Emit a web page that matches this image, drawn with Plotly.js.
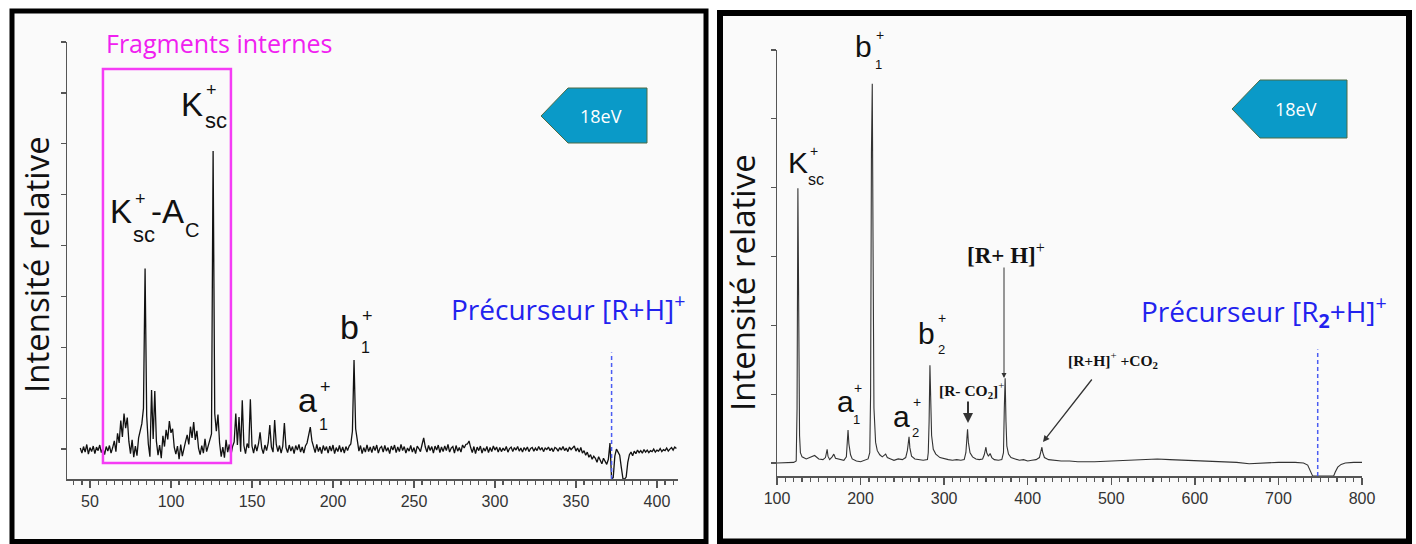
<!DOCTYPE html>
<html>
<head>
<meta charset="utf-8">
<script src="https://cdn.plot.ly/plotly-3.0.1.min.js"></script>
<style>html,body{margin:0;padding:0;background:#fff;}#chart{width:1416px;height:544px;}</style>
</head>
<body>
<div id="chart"></div>
<script>
// ---------- DATA ----------
// Left spectrum (18 eV, precursor [R+H]+ at m/z 372): intensity (arb. units) per m/z, from m/z 44 to 412
const mzStartL = 44;
const intL = [
  0.2,-0.8,0.5,-0.6,0.9,-1.0,0.3,-0.5,0.6,-0.9,      // 44-53
  0.4,-0.3,0.8,-0.7,0.2,-1.1,0.5,-0.4,0.7,-0.8,      // 54-63
  0.3,1.6,-0.5,3.1,1.2,5.6,2.4,7.0,4.1,6.2,          // 64-73
  1.5,-0.9,1.8,-1.6,0.6,-1.3,2.2,3.5,5.0,8.0,        // 74-83
  35.5,6.5,1.0,-1.5,11.6,2.0,11.4,1.5,-1.2,0.8,      // 84-93
  -1.8,2.6,0.5,3.8,1.9,5.5,3.2,4.0,0.4,-1.0,         // 94-103
  0.6,-2.0,0.9,-1.4,0.3,1.5,2.8,0.9,4.4,2.2,         // 104-113
  5.3,1.8,3.6,0.2,-1.1,0.7,-0.8,2.0,-0.5,0.8,        // 114-123
  1.6,3.0,58.6,7.0,3.5,6.8,1.2,-1.5,0.4,-1.7,        // 124-133
  1.8,-0.6,0.9,-1.2,0.5,1.4,7.0,0.8,6.3,-0.5,        // 134-143
  9.6,0.7,-0.9,1.1,0.2,9.8,0.6,-0.8,0.9,-0.4,        // 144-153
  1.0,3.3,0.2,-0.9,0.8,-0.3,1.2,4.7,0.4,-0.6,        // 154-163
  5.7,0.9,-0.5,0.7,-0.8,0.6,5.1,0.3,-0.7,0.8,        // 164-173
  -0.4,0.5,-0.9,0.7,-0.2,0.9,-0.6,0.4,-0.8,0.6,      // 174-183
  1.2,2.5,4.3,1.6,0.3,-0.7,0.9,-0.5,0.4,-0.9,        // 184-193
  0.7,-0.3,0.5,-0.8,0.6,-0.4,0.8,-0.9,0.3,-0.5,      // 194-203
  0.7,-0.6,0.4,-0.8,0.5,-0.3,0.6,1.0,3.5,17.5,       // 204-213
  4.0,1.2,-0.4,0.7,-0.9,0.3,-0.6,0.8,-0.5,0.4,       // 214-223
  -0.7,0.6,-0.3,0.8,-0.8,0.2,0.5,-0.6,0.7,-0.4,      // 224-233
  0.3,-0.9,0.6,-0.2,0.8,-0.7,0.4,-0.5,0.9,-0.3,      // 234-243
  0.5,-0.8,0.2,-0.4,0.7,-0.6,0.3,-0.9,0.6,0.1,       // 244-253
  -0.5,0.9,2.2,0.4,-0.6,0.7,-0.3,0.5,-0.8,0.6,       // 254-263
  -0.2,0.8,-0.7,0.4,-0.5,0.6,-0.3,0.9,-0.6,0.2,      // 264-273
  0.5,-0.8,0.7,-0.4,0.3,-0.6,0.8,0.2,0.9,1.0,        // 274-283
  1.6,0.3,-0.7,0.5,-0.9,0.4,-0.3,0.6,-0.8,0.2,       // 284-293
  -0.4,0.5,-0.7,0.3,-0.5,0.6,-0.2,0.4,-0.6,0.3,      // 294-303
  -0.5,0.2,-0.3,0.5,-0.6,0.1,0.4,-0.5,0.3,-0.2,      // 304-313
  0.5,-0.4,0.2,-0.6,0.3,-0.2,0.4,-0.5,0.1,0.3,       // 314-323
  -0.4,0.2,-0.3,0.5,-0.2,0.3,-0.5,0.2,-0.1,0.4,      // 324-333
  -0.3,0.2,-0.5,0.3,0.1,-0.4,0.3,-0.2,0.5,-0.3,      // 334-343
  0.2,-0.5,0.4,-0.1,0.3,0.6,-0.4,0.2,-0.6,0.3,       // 344-353
  -0.8,-0.3,-1.2,-0.6,-1.6,-1.1,-2.0,-1.4,-1.8,-2.6, // 354-363
  -1.5,-2.2,-2.9,-1.8,-2.4,-3.0,-2.0,1.2,-5.9,-5.6,  // 364-373
  -1.4,0.0,-0.6,-1.2,-3.6,-5.8,-5.9,-5.5,-2.6,-1.1,  // 374-383
  -0.6,-1.3,-0.4,-0.9,-0.2,-0.7,-0.3,-0.8,-0.1,-0.6, // 384-393
  -0.2,-0.7,-0.3,-0.5,0.0,-0.6,-0.2,-0.4,0.1,-0.5,   // 394-403
  -0.1,-0.3,0.2,-0.4,0.0,0.3,-0.2,0.4,0.1            // 404-412
];
const mzL = intL.map((_, i) => mzStartL + i);

// Right spectrum (18 eV, precursor [R2+H]+ at m/z ~747)
const mzR = [100,110,120,123,124,125,126,127,128,130,135,140,145,150,155,158,160,161,163,166,168,170,175,180,183,184,185,186,188,190,195,200,205,209,211,212,213,214,215,216,218,220,223,226,230,232,236,240,245,250,254,256,257,258,259,261,265,270,275,280,281,282,283,284,285,287,290,295,300,305,310,315,320,324,326,327,328,329,331,334,338,342,346,348,350,351,353,355,357,360,365,369,371,372,373,374,375,377,380,385,390,395,400,405,410,414,416,417,418,420,425,430,440,450,460,480,500,520,540,555,570,590,610,630,650,665,680,700,720,730,735,738,741,745,750,755,760,766,768,771,775,780,790,800];
const intR = [0.0,0.1,0.1,0.3,8,39.9,20,4,1.5,0.9,0.6,0.9,1.1,0.6,0.5,0.8,2.0,1.0,0.5,0.9,1.3,0.7,0.5,0.4,0.9,2.5,4.8,2.8,1.2,0.6,0.3,0.2,0.4,0.6,1.5,10,45,55.1,30,8,3,1.8,1.2,0.9,1.3,0.8,0.6,0.4,0.6,0.5,0.8,1.8,2.8,3.8,2.2,1.0,0.6,0.5,0.4,0.5,1.5,6,14.2,9,4,2,1.3,0.8,0.6,0.5,0.4,0.5,0.4,0.5,1.5,4.0,4.9,3,1.5,0.9,0.6,0.5,0.6,1.2,2.3,1.5,1.0,1.4,0.8,0.5,0.4,0.5,1.5,8,12.3,6,2.5,1.3,0.8,0.6,0.4,0.5,0.3,0.4,0.5,0.8,1.8,2.3,1.5,0.8,0.5,0.4,0.3,0.3,0.2,0.2,0.3,0.4,0.5,0.6,0.5,0.4,0.3,0.2,0.1,-0.1,0.0,0.1,0.1,0.0,-0.3,-1.0,-1.9,-1.9,-1.9,-1.9,-1.9,-1.9,-1.3,-0.6,-0.2,0.0,0.1,0.1];

const precursorL = 372;
const precursorR = 747;
const fragBoxL = [58, 137];   // m/z span of "Fragments internes" box

// ---------- LAYOUT HELPERS ----------
const W = 1416, H = 544;
const fx = x => x / W, fy = y => 1 - y / H;
const SANS = 'Liberation Sans, Arial, sans-serif';
const OPEN = 'Open Sans, sans-serif';
const SERIF = 'Liberation Serif, Times New Roman, serif';

function lab(x, y, text, size, family, color, extra) {
  return Object.assign({xref:'paper', yref:'paper', x:fx(x), y:fy(y), text:text, showarrow:false,
    xanchor:'center', yanchor:'middle', font:{family:family||SANS, size:size, color:color||'#111'}}, extra||{});
}
function arrow(hx, hy, tx, ty, w, size) {
  return {xref:'paper', yref:'paper', x:fx(hx), y:fy(hy), ax:tx-hx, ay:ty-hy, text:'', showarrow:true,
    arrowhead:2, arrowsize:size||1, arrowwidth:w||1, arrowcolor:'#333'};
}
function tagPath(tipX, tipY, notchX, top, right, bottom) {
  return 'M ' + fx(tipX) + ' ' + fy(tipY) + ' L ' + fx(notchX) + ' ' + fy(top) + ' L ' + fx(right) + ' ' + fy(top) +
         ' L ' + fx(right) + ' ' + fy(bottom) + ' L ' + fx(notchX) + ' ' + fy(bottom) + ' Z';
}

const axisCommon = {showgrid:false, zeroline:false, showline:true, linecolor:'#555', linewidth:1.5,
  ticks:'outside', tickcolor:'#555', tickwidth:1.3};

const layout = {
  width: W, height: H, margin:{l:0, r:0, t:0, b:0},
  paper_bgcolor:'#ffffff', plot_bgcolor:'rgba(0,0,0,0)', showlegend:false,
  xaxis: Object.assign({}, axisCommon, {domain:[fx(67), fx(678)], range:[35.8, 413], anchor:'y',
    tick0:0, dtick:50, ticklen:7, tickfont:{family:SANS, size:16, color:'#333'},
    minor:{dtick:5, tick0:0, ticks:'outside', ticklen:4, tickcolor:'#555', tickwidth:1.2, showgrid:false}}),
  yaxis: Object.assign({}, axisCommon, {domain:[fy(479), fy(42)], range:[-5.88, 80], anchor:'x',
    tick0:0, dtick:10, ticklen:5, showticklabels:false}),
  xaxis2: Object.assign({}, axisCommon, {domain:[fx(777), fx(1362)], range:[100, 800], anchor:'y2',
    tick0:0, dtick:100, ticklen:7, tickfont:{family:SANS, size:16, color:'#333'},
    minor:{dtick:10, tick0:0, ticks:'outside', ticklen:4, tickcolor:'#555', tickwidth:1.2, showgrid:false}}),
  yaxis2: Object.assign({}, axisCommon, {domain:[fy(476), fy(50)], range:[-1.88, 60], anchor:'x2',
    tick0:0, dtick:10, ticklen:5, showticklabels:false}),
  shapes: [
    // panel frames
    {type:'rect', xref:'paper', yref:'paper', x0:fx(12), x1:fx(706), y0:fy(541.5), y1:fy(11),
     line:{color:'#000', width:5}, fillcolor:'#fafafa', layer:'below'},
    {type:'rect', xref:'paper', yref:'paper', x0:fx(720), x1:fx(1409), y0:fy(541.5), y1:fy(13),
     line:{color:'#000', width:6}, fillcolor:'#fafafa', layer:'below'},
    // Fragments internes box
    {type:'rect', xref:'x', yref:'y', x0:fragBoxL[0], x1:fragBoxL[1], y0:-2.75, y1:74.7,
     line:{color:'#f53cf5', width:2.5}, fillcolor:'rgba(0,0,0,0)'},
    // precursor dashed lines
    {type:'line', xref:'x', yref:'y', x0:precursorL, x1:precursorL, y0:-5.88, y1:19,
     line:{color:'#4b5cf2', width:1.5, dash:'4px,3px'}},
    {type:'line', xref:'x2', yref:'y2', x0:precursorR, x1:precursorR, y0:-1.88, y1:16.5,
     line:{color:'#4b5cf2', width:1.5, dash:'4px,3px'}},
    // 18eV tags
    {type:'path', xref:'paper', yref:'paper', path:tagPath(541,116,568,88,647,143),
     fillcolor:'#0a9ac8', line:{color:'#4d6b45', width:1}},
    {type:'path', xref:'paper', yref:'paper', path:tagPath(1232,109,1260,80,1347,138),
     fillcolor:'#0a9ac8', line:{color:'#4d6b45', width:1}}
  ],
  annotations: [
    // axis titles
    lab(37, 265, 'Intensité relative', 33, OPEN, '#111', {textangle:-90}),
    lab(742, 283, 'Intensité relative', 33, OPEN, '#111', {textangle:-90}),
    // tags text
    lab(601, 116, '18eV', 18, OPEN, '#ffffff'),
    lab(1296, 109, '18eV', 18, OPEN, '#ffffff'),
    // Fragments internes
    lab(219, 43, 'Fragments internes', 25, OPEN, '#f020f0'),
    // Precursor labels
    lab(568, 307, 'Précurseur [R+H]<sup>+</sup>', 28, OPEN, '#2222ee'),
    lab(1264, 311, 'Précurseur [R<sub><b>2</b></sub>+H]<sup>+</sup>', 28, OPEN, '#2222ee'),
    // Left labels: K_sc+
    lab(191.5, 104, 'K', 33), lab(211, 90, '+', 18), lab(215.5, 120, 'sc', 22),
    // K_sc+ - A_c
    lab(121.5, 212, 'K', 33), lab(140, 199, '+', 18), lab(143.5, 234, 'sc', 22),
    lab(167, 212, '-A', 33), lab(191.5, 230, 'C', 20),
    // a1+
    lab(307.5, 400, 'a', 34), lab(325, 387, '+', 18), lab(323, 424, '1', 16),
    // b1+
    lab(349, 327, 'b', 34), lab(367, 316, '+', 18), lab(365, 347.5, '1', 16),
    // Right labels: b1+
    lab(863.5, 46, 'b', 30), lab(879.5, 35, '+', 14), lab(878, 64, '1', 13),
    // K_sc+
    lab(797.5, 163, 'K', 30), lab(813.5, 151, '+', 14), lab(816, 179, 'sc', 16),
    // a1+
    lab(845, 401, 'a', 30), lab(857.5, 388, '+', 14), lab(856.5, 419, '1', 13),
    // a2+
    lab(901.5, 416, 'a', 30), lab(916.5, 402, '+', 14), lab(915, 432, '2', 13),
    // b2+
    lab(926.5, 333, 'b', 30), lab(941.5, 318, '+', 14), lab(941, 349.5, '2', 13),
    // serif ion labels
    lab(1006, 253, '<b>[R+ H]</b><sup>+</sup>', 23, SERIF, '#111'),
    lab(972, 390, '<b>[R- CO<sub>2</sub>]</b><sup>+</sup>', 15.5, SERIF, '#111'),
    lab(1113, 360, '<b>[R+H]</b><sup>+</sup><b> +CO<sub>2</sub></b>', 15.5, SERIF, '#111'),
    // arrows
    arrow(1004, 378, 1004, 266, 1, 1),
    arrow(968, 423, 968, 400, 2, 1),
    arrow(1043, 442, 1093, 378, 1.3, 1)
  ]
};

const traces = [
  {x: mzL, y: intL, xaxis:'x', yaxis:'y', type:'scatter', mode:'lines',
   line:{color:'#111', width:1.3}, hoverinfo:'skip'},
  {x: mzR, y: intR, xaxis:'x2', yaxis:'y2', type:'scatter', mode:'lines',
   line:{color:'#333', width:1.1}, hoverinfo:'skip'}
];

Plotly.newPlot('chart', traces, layout, {displayModeBar:false, staticPlot:true});
</script>
</body>
</html>
